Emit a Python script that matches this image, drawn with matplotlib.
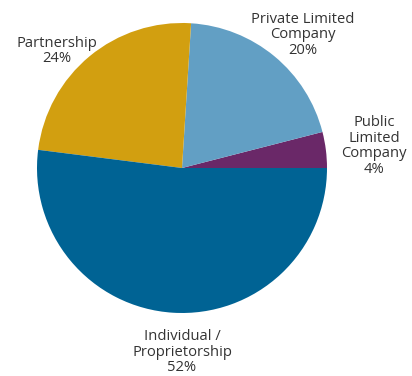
import matplotlib.pyplot as plt

labels = ["Public\nLimited\nCompany", "Private Limited\nCompany", "Partnership", "Individual /\nProprietorship"]
shares = [4, 20, 24, 52]
colors = ["#6a2868", "#629fc4", "#d29f10", "#006394"]

# label anchor points, in pixels from the top-left corner
label_xy = [(374, 146), (303, 35), (57, 51), (182, 352)]

W, H = 412, 376
fig = plt.figure(figsize=(W / 100, H / 100), dpi=100)
ax = fig.add_axes([0, 0, 1, 1])
ax.axis("off")

ax.pie(shares, colors=colors, startangle=0, counterclock=True,
       center=(182, H - 168), radius=145,
       wedgeprops=dict(linewidth=0))
ax.set_xlim(0, W)
ax.set_ylim(0, H)
ax.set_aspect("equal")

for lab, val, (x, y) in zip(labels, shares, label_xy):
    ax.text(x, H - y, f"{lab}\n{val}%", ha="center", va="center",
            fontsize=10.6, color="#333333", family="Open Sans",
            linespacing=1.05)

fig.savefig("out.png", dpi=100)
